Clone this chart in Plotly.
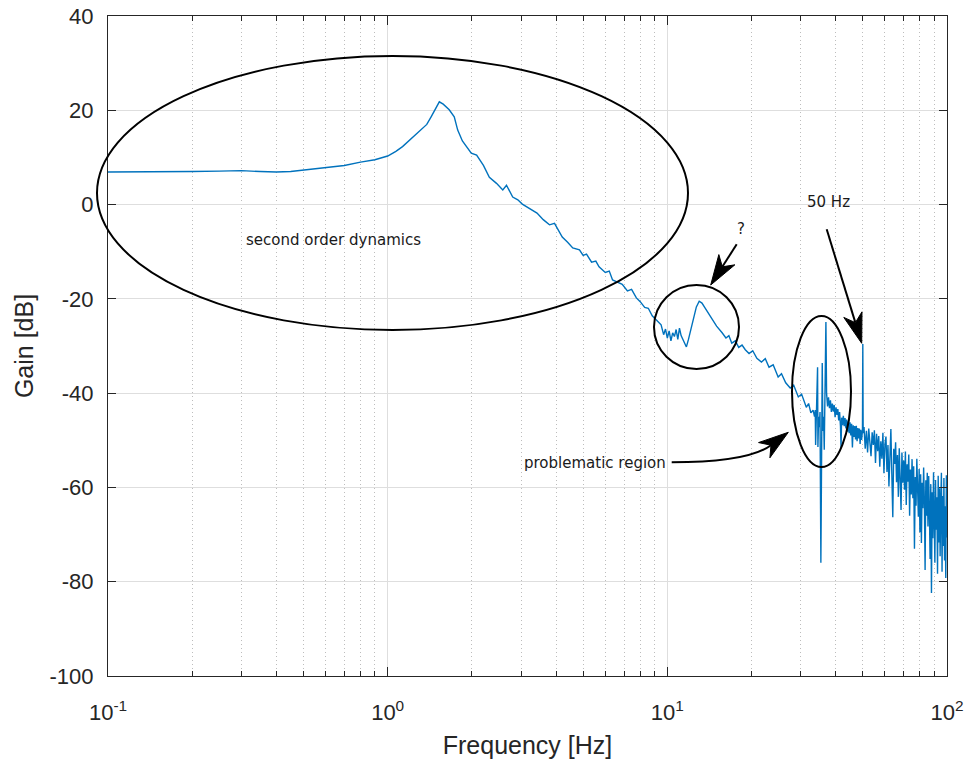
import plotly.graph_objects as go

# ---------------- data ----------------
freq_resonance = [0.10, 0.12, 0.15, 0.20, 0.25, 0.30, 0.35, 0.40, 0.45, 0.50,
                  0.55, 0.60, 0.65, 0.70, 0.80, 0.90, 1.00, 1.07, 1.13, 1.22,
                  1.28, 1.33, 1.38, 1.43, 1.48, 1.53, 1.58, 1.66, 1.73, 1.78,
                  1.85, 1.99, 2.08, 2.20, 2.31, 2.45, 2.58, 2.66, 2.80, 2.92,
                  3.03, 3.20, 3.42, 3.60, 3.79, 3.95, 4.10, 4.21, 4.40, 4.59,
                  4.85, 5.00, 5.14, 5.36, 5.55, 5.70, 6.00, 6.20, 6.37, 6.70,
                  6.90, 7.20, 7.45, 7.75, 8.00, 8.30, 8.55, 8.83, 9.20]
gain_resonance = [6.9, 6.9, 6.9, 7.0, 7.1, 7.2, 7.0, 6.9, 7.0, 7.3,
                  7.5, 7.8, 8.0, 8.3, 9.0, 9.5, 10.3, 11.3, 12.3, 14.1,
                  15.2, 16.2, 17.0, 18.6, 20.3, 21.8, 21.3, 20.1, 18.6, 15.8,
                  13.5, 10.9, 10.5, 8.3, 5.8, 4.5, 3.1, 4.1, 1.6, 1.0,
                  0.1, -0.8, -1.8, -3.2, -4.3, -4.0, -5.9, -6.9, -8.0, -9.2,
                  -9.6, -10.8, -10.5, -12.2, -12.0, -13.2, -14.4, -14.1, -16.0, -16.6,
                  -16.9, -18.3, -18.0, -19.8, -20.6, -21.8, -22.0, -23.6, -24.6]

freq_bump = [9.50, 9.70, 9.85, 10.00, 10.15, 10.30, 10.45, 10.60, 10.75, 10.90,
             11.05, 11.20, 11.35, 11.50, 11.70, 11.90, 12.10, 12.40, 12.70, 13.00,
             13.30, 13.60, 14.00, 14.50, 15.00, 15.70, 16.20, 16.60, 17.00, 17.50,
             18.00, 18.50, 19.00, 19.60, 20.20, 20.90, 21.70, 22.40, 23.10, 23.90,
             24.90, 25.60, 26.50, 27.50, 28.30, 29.40, 30.20, 31.40, 32.00, 32.60,
             33.20]
gain_bump = [-25.5, -27.6, -26.4, -28.3, -26.8, -28.9, -27.2, -28.0, -26.5, -28.6,
             -26.2, -27.8, -28.5, -29.4, -30.2, -28.6, -26.8, -23.8, -21.7, -20.5,
             -20.9, -21.8, -23.0, -24.5, -25.8, -27.2, -28.3, -27.8, -29.4, -28.9,
             -30.3, -29.8, -30.8, -31.6, -31.0, -32.6, -33.4, -32.7, -34.5, -34.0,
             -36.6, -35.9, -37.8, -38.9, -38.3, -40.8, -40.2, -43.0, -42.2, -44.2,
             -43.6]

freq_problem = [33.6, 33.8, 33.9, 34.1, 34.45, 34.55, 34.75, 34.95, 35.15, 35.4,
                35.55, 35.8, 36.0, 36.2, 36.4, 36.6, 36.9, 37.1, 37.4, 37.7,
                38.0, 38.3, 38.6, 38.9, 39.2, 39.5, 39.8, 40.1, 40.4, 40.7,
                41.0, 41.3, 41.6, 41.8, 42.0, 42.3, 42.6, 42.9, 43.2, 43.5,
                43.8, 44.1, 44.4, 44.7, 45.0, 45.3, 45.6, 45.9, 46.2, 46.5,
                46.8, 47.1, 47.4, 47.7, 48.0, 48.3, 48.6, 48.9, 49.2, 49.5,
                49.85, 50.0, 50.15]
gain_problem = [-45.0, -43.6, -51.0, -44.5, -34.5, -51.4, -45.0, -47.2, -44.0, -76.0,
                -45.5, -33.6, -48.0, -45.0, -52.0, -44.0, -24.9, -40.0, -42.8, -40.9,
                -43.2, -41.5, -44.0, -42.2, -43.9, -42.5, -45.1, -43.0, -44.6, -43.4,
                -45.8, -44.0, -47.0, -51.6, -45.2, -46.8, -44.8, -47.0, -45.3, -47.5,
                -45.6, -48.2, -46.0, -48.5, -46.2, -49.0, -46.5, -51.5, -46.8, -49.3,
                -47.0, -49.8, -46.9, -50.2, -47.4, -49.6, -47.5, -50.8, -47.8, -49.9,
                -48.0, -29.6, -48.5]

freq_noise = [50.5, 51.0, 51.5, 52.0, 52.5, 53.0, 53.5, 54.0, 54.5, 55.0,
              55.5, 56.0, 56.5, 57.0, 57.5, 58.0, 58.5, 59.0, 59.5, 60.0,
              60.5, 61.0, 61.5, 62.0, 62.5, 63.0, 63.5, 64.0, 64.5, 65.0,
              65.5, 66.0, 66.5, 67.0, 67.5, 68.0, 68.5, 69.0, 69.5, 70.0,
              70.5, 71.0, 71.5, 72.0, 72.5, 73.0, 73.5, 74.0, 74.5, 75.0,
              75.5, 76.0, 76.5, 77.0, 77.5, 78.0, 78.5, 79.0, 79.5, 80.0,
              80.5, 81.0, 81.5, 82.0, 82.5, 83.0, 83.5, 84.0, 84.5, 85.0,
              85.5, 86.0, 86.5, 87.0, 87.5, 88.0, 88.5, 89.0, 89.5, 90.0,
              90.5, 91.0, 91.5, 92.0, 92.5, 93.0, 93.5, 94.0, 94.5, 95.0,
              95.5, 96.0, 96.5, 97.0, 97.5, 98.0, 98.5, 99.0, 99.5, 100.0]
gain_noise = [-47.2, -51.8, -48.0, -52.6, -47.5, -50.9, -53.4, -48.3, -51.0, -47.9,
              -54.8, -48.6, -52.3, -49.1, -55.6, -50.2, -53.9, -48.4, -57.0, -50.8,
              -49.2, -56.7, -51.0, -59.8, -52.5, -47.6, -57.3, -66.3, -51.8, -55.0,
              -50.4, -58.9, -53.1, -62.0, -51.7, -56.8, -64.8, -52.6, -59.0, -54.3,
              -60.5, -52.4, -63.7, -55.1, -58.8, -53.0, -66.0, -56.2, -61.5, -54.0,
              -62.3, -55.5, -73.0, -57.8, -63.9, -53.9, -60.8, -66.2, -56.1, -69.5,
              -57.2, -71.8, -59.0, -64.4, -55.8, -62.7, -77.5, -58.5, -66.0, -56.9,
              -68.3, -57.6, -64.9, -75.2, -59.3, -82.4, -61.0, -70.8, -56.8, -66.5,
              -76.0, -58.4, -69.0, -62.1, -78.3, -57.5, -71.7, -60.2, -74.6, -63.0,
              -56.9, -77.9, -61.8, -72.4, -58.0, -75.5, -64.0, -79.2, -57.4, -70.6]

x_tick_vals = [0.1, 1, 10, 100]
x_tick_text = ["10<sup>-1</sup>", "10<sup>0</sup>", "10<sup>1</sup>", "10<sup>2</sup>"]
x_minor_vals = [0.2, 0.3, 0.4, 0.5, 0.6, 0.7, 0.8, 0.9,
                2, 3, 4, 5, 6, 7, 8, 9,
                20, 30, 40, 50, 60, 70, 80, 90]
y_tick_vals = [-100, -80, -60, -40, -20, 0, 20, 40]

freq = freq_resonance + freq_bump + freq_problem + freq_noise
gain = gain_resonance + gain_bump + gain_problem + gain_noise

# ---------------- layout geometry (pixels of the 968x765 canvas) ----------------
W, H = 968, 765
PL, PR, PT, PB = 108, 947, 16, 676


def P(px, py):
    return ((px - PL) / (PR - PL), (PB - py) / (PB - PT))


def arrow_head(tip, back, length=30, half=9.5, notch=0.72):
    tx, ty = tip
    bx, by = back
    dx, dy = tx - bx, ty - by
    n = (dx * dx + dy * dy) ** 0.5
    ux, uy = dx / n, dy / n
    nx, ny = -uy, ux
    cx, cy = tx - length * ux, ty - length * uy
    b1 = (cx + half * nx, cy + half * ny)
    b2 = (cx - half * nx, cy - half * ny)
    nt = (tx - notch * length * ux, ty - notch * length * uy)
    pts = [P(*tip), P(*b1), P(*nt), P(*b2)]
    path = "M {:.5f},{:.5f} L {:.5f},{:.5f} L {:.5f},{:.5f} L {:.5f},{:.5f} Z".format(
        *pts[0], *pts[1], *pts[2], *pts[3])
    return dict(type="path", xref="paper", yref="paper", path=path,
                fillcolor="black", line=dict(color="black", width=1)), nt


def ellipse(left, right, top, bottom):
    x0, y0 = P(left, bottom)
    x1, y1 = P(right, top)
    return dict(type="circle", xref="paper", yref="paper", x0=x0, x1=x1, y0=y0, y1=y1,
                line=dict(color="black", width=2))


def seg(a, b):
    (x0, y0), (x1, y1) = P(*a), P(*b)
    return dict(type="line", xref="paper", yref="paper", x0=x0, y0=y0, x1=x1, y1=y1,
                line=dict(color="black", width=2))


shapes = [ellipse(97, 688, 56, 330), ellipse(654, 739, 285, 369), ellipse(792, 851, 316, 467)]

# "?" arrow
h, nt = arrow_head((710.7, 285), (736.7, 244.3))
shapes += [seg((736.7, 244.3), nt), h]
# "50 Hz" arrow
h, nt = arrow_head((861.7, 343.3), (826.7, 229.3))
shapes += [seg((826.7, 229.3), nt), h]
# "problematic region" curved arrow
h, nt = arrow_head((788.3, 432.3), (761.4, 452.3))
s0 = P(671.7, 462.3)
c0 = P(748.0, 462.3)
e0 = P(*nt)
shapes += [dict(type="path", xref="paper", yref="paper",
                path="M {:.5f},{:.5f} Q {:.5f},{:.5f} {:.5f},{:.5f}".format(*s0, *c0, *e0),
                line=dict(color="black", width=2)), h]

TXT = dict(family="DejaVu Sans, Verdana, sans-serif", size=15, color="#1a1a1a")


def label(text, px, py):
    x, y = P(px, py)
    return dict(text=text, x=x, y=y, xref="paper", yref="paper", showarrow=False,
                xanchor="center", yanchor="middle", font=TXT)


annotations = [label("second order dynamics", 333.5, 240),
               label("?", 741, 229),
               label("50 Hz", 828, 202),
               label("problematic region", 595, 463)]

AX = "#262626"
FAM = "Liberation Sans, Arial, Helvetica, sans-serif"
TICKFONT = dict(family=FAM, size=22, color=AX)
TITLEFONT = dict(family=FAM, size=25, color=AX)

fig = go.Figure(go.Scatter(x=freq, y=gain, mode="lines",
                           line=dict(color="#0072BD", width=1.4), hoverinfo="x+y"))

fig.update_layout(
    width=W, height=H,
    margin=dict(l=PL, r=W - PR, t=PT, b=H - PB, autoexpand=False),
    paper_bgcolor="white", plot_bgcolor="white",
    showlegend=False,
    shapes=shapes, annotations=annotations,
    font=TICKFONT,
)

fig.update_xaxes(
    type="log", range=[-1, 2], automargin=False,
    tickmode="array", tickvals=x_tick_vals, ticktext=x_tick_text,
    ticks="inside", ticklen=9, tickwidth=1, tickcolor=AX,
    showline=True, linecolor=AX, linewidth=1, mirror="ticks",
    showgrid=True, gridcolor="#dedede", gridwidth=1,
    minor=dict(tickmode="array", tickvals=x_minor_vals, ticks="inside", ticklen=5,
               tickcolor=AX, showgrid=True, gridcolor="#bdbdbd", griddash="1px,3px", gridwidth=1),
    tickfont=TICKFONT, ticklabelstandoff=17,
    title=dict(text="Frequency [Hz]", font=TITLEFONT, standoff=12),
    zeroline=False,
)
fig.update_yaxes(
    range=[-100, 40], automargin=False,
    tickmode="array", tickvals=y_tick_vals, ticktext=[str(v) for v in y_tick_vals],
    ticks="inside", ticklen=8, tickwidth=1, tickcolor=AX,
    showline=True, linecolor=AX, linewidth=1, mirror="ticks",
    showgrid=True, gridcolor="#dedede", gridwidth=1,
    tickfont=TICKFONT, ticklabelstandoff=9,
    title=dict(text="Gain [dB]", font=TITLEFONT, standoff=8),
    zeroline=False,
)

fig.write_html("out.html")
